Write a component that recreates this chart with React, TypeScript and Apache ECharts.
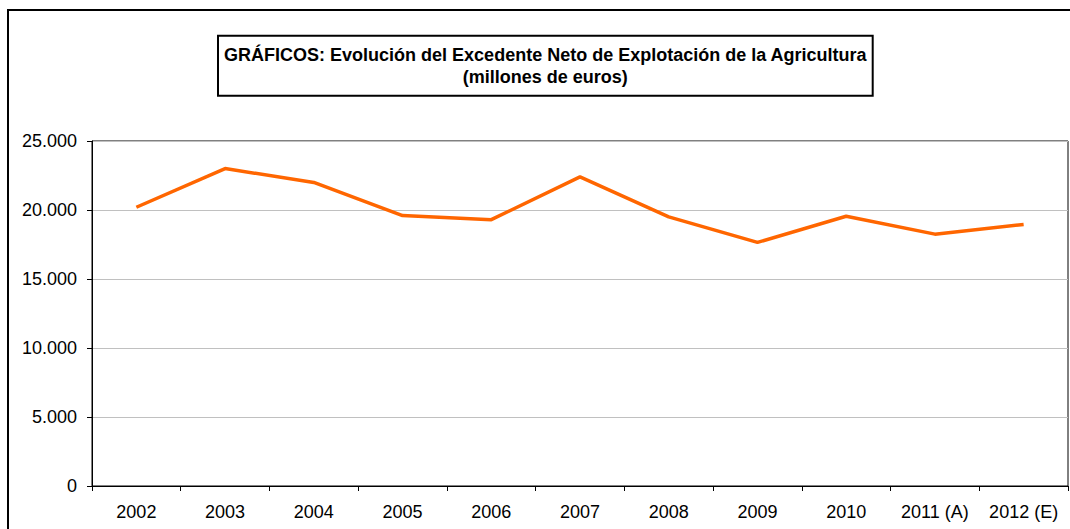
import React, { useEffect, useRef } from "react";
import * as echarts from "echarts";

const categories = ["2002", "2003", "2004", "2005", "2006", "2007", "2008", "2009", "2010", "2011 (A)", "2012 (E)"];
const values = [20200, 23000, 22000, 19600, 19300, 22400, 19500, 17650, 19550, 18250, 18950];
const titleLines = [
  "GRÁFICOS: Evolución del Excedente Neto de Explotación de la Agricultura",
  "(millones de euros)",
];

const fmt = (v: number) => String(v).replace(/\B(?=(\d{3})+(?!\d))/g, ".");

export default function App() {
  const ref = useRef<HTMLDivElement>(null);
  useEffect(() => {
    if (!ref.current) return;
    const chart = echarts.init(ref.current, null, { renderer: "svg" });
    const font = "'Liberation Sans', Arial, sans-serif";
    chart.setOption({
      animation: false,
      backgroundColor: "#ffffff",
      textStyle: { fontFamily: font },
      grid: {
        left: 92,
        top: 141,
        right: 2,
        bottom: 43,
        show: true,
        borderColor: "#000000",
        borderWidth: 1,
      },
      xAxis: {
        type: "category",
        data: categories,
        boundaryGap: true,
        axisLine: { show: true, lineStyle: { color: "#000000", width: 1 } },
        axisTick: { show: true, length: 5, lineStyle: { color: "#000000" } },
        axisLabel: { color: "#000000", fontSize: 18, fontFamily: font, margin: 17, interval: 0 },
        splitLine: { show: false },
      },
      yAxis: {
        type: "value",
        min: 0,
        max: 25000,
        interval: 5000,
        axisLine: { show: true, lineStyle: { color: "#000000", width: 1 } },
        axisTick: { show: true, length: 5, lineStyle: { color: "#000000" } },
        axisLabel: { color: "#000000", fontSize: 18, fontFamily: font, margin: 15, formatter: (v: number) => fmt(v) },
        splitLine: { show: true, lineStyle: { color: "#c0c0c0", width: 1 } },
      },
      series: [
        {
          type: "line",
          data: values,
          symbol: "none",
          lineStyle: { color: "#ff6600", width: 3.5 },
          itemStyle: { color: "#ff6600" },
        },
      ],
      graphic: [
        {
          type: "polyline",
          shape: { points: [[8, 600], [8, 10], [1100, 10]] },
          style: { stroke: "#000000", lineWidth: 2, fill: null },
          silent: true,
        },
        {
          type: "rect",
          shape: { x: 218, y: 35.7, width: 654.7, height: 60 },
          style: { stroke: "#000000", lineWidth: 2, fill: "#ffffff" },
          silent: true,
        },
        {
          type: "text",
          x: 545.3,
          y: 66,
          style: {
            text: titleLines.join("\n"),
            fontSize: 18,
            fontWeight: "bold",
            fontFamily: font,
            fill: "#000000",
            align: "center",
            verticalAlign: "middle",
            lineHeight: 22,
          },
          silent: true,
        },
      ],
    });
    return () => chart.dispose();
  }, []);
  return (
    <div
      ref={ref}
      style={{ position: "fixed", left: 0, top: 0, width: 1070, height: 529, background: "#fff" }}
    />
  );
}
